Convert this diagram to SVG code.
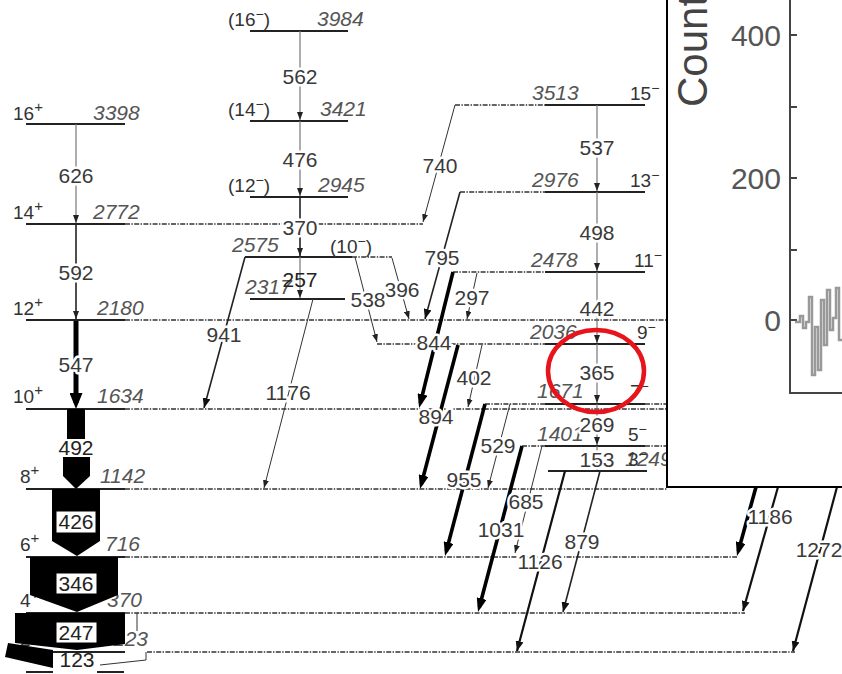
<svg xmlns="http://www.w3.org/2000/svg" width="842" height="674" viewBox="0 0 842 674">
<style>
.lv{stroke:#222;stroke-width:2.2;fill:none}
.dt{stroke:#333;stroke-width:1.4;stroke-dasharray:5 1.4 1.4 1.4;fill:none}
.gv{stroke:#777;stroke-width:1.2;fill:none}
.tn{stroke:#333;stroke-width:1;fill:none}
.mn{stroke:#222;stroke-width:1.6;fill:none}
.md{stroke:#111;stroke-width:2.2;fill:none}
.th{stroke:#000;stroke-width:3.6;fill:none}
.t{font-family:"Liberation Sans",Arial,sans-serif;font-size:21px;fill:#3a3a3a;text-anchor:middle;stroke:#fff;stroke-width:5;stroke-linejoin:round;paint-order:stroke}
.tb{font-family:"Liberation Sans",Arial,sans-serif;font-size:21px;fill:#222;text-anchor:middle}
.e{font-family:"Liberation Sans",Arial,sans-serif;font-size:21px;font-style:italic;fill:#555}
.s{font-family:"Liberation Sans",Arial,sans-serif;font-size:19px;fill:#333}
.ax{font-family:"Liberation Sans",Arial,sans-serif;font-size:30px;fill:#555;text-anchor:end}
.blk{fill:#000}
.box{fill:#fff;stroke:#000;stroke-width:1}
</style>
<defs>
<marker id="as" viewBox="0 0 8 6" refX="8" refY="3" markerWidth="8" markerHeight="6" markerUnits="userSpaceOnUse" orient="auto"><path d="M0,0L8,3L0,6z" fill="#222"/></marker>
<marker id="am" viewBox="0 0 10 8" refX="10" refY="4" markerWidth="10" markerHeight="8" markerUnits="userSpaceOnUse" orient="auto"><path d="M0,0L10,4L0,8z" fill="#111"/></marker>
<marker id="al" viewBox="0 0 14 10" refX="9" refY="5" markerWidth="14" markerHeight="10" markerUnits="userSpaceOnUse" orient="auto"><path d="M0,0L14,5L0,10z" fill="#000"/></marker>
<marker id="ax" viewBox="0 0 16 13" refX="10" refY="6.5" markerWidth="16" markerHeight="13" markerUnits="userSpaceOnUse" orient="auto"><path d="M0,0L16,6.5L0,13z" fill="#000"/></marker>
</defs>
<rect width="842" height="674" fill="#fff"/>

<!-- ground band levels -->
<g id="L0"><path class="lv" d="M26,672H53M97,672H124"/></g>
<g id="L123"><path class="lv" d="M26,652H125"/><path class="dt" d="M147,652H795"/><text class="s" x="20" y="646">2<tspan dy="-8" font-size="15">+</tspan></text><text class="e" x="113" y="646">123</text></g>
<g id="L370"><path class="lv" d="M26,613H125"/><path class="dt" d="M125,613H745"/><text class="s" x="20" y="607">4<tspan dy="-8" font-size="15">+</tspan></text><text class="e" x="107" y="607">370</text></g>
<g id="L716"><path class="lv" d="M26,557H125"/><path class="dt" d="M125,557H737"/><text class="s" x="20" y="551">6<tspan dy="-8" font-size="15">+</tspan></text><text class="e" x="105" y="551">716</text></g>
<g id="L1142"><path class="lv" d="M26,489H125"/><path class="dt" d="M125,489H667"/><text class="s" x="20" y="483">8<tspan dy="-8" font-size="15">+</tspan></text><text class="e" x="100" y="483">1142</text></g>
<g id="L1634"><path class="lv" d="M26,409H125"/><path class="dt" d="M125,409H667"/><text class="s" x="13" y="403">10<tspan dy="-8" font-size="15">+</tspan></text><text class="e" x="97" y="403">1634</text></g>
<g id="L2180"><path class="lv" d="M26,320H125"/><path class="dt" d="M125,320H667"/><text class="s" x="13" y="315">12<tspan dy="-8" font-size="15">+</tspan></text><text class="e" x="97" y="315">2180</text></g>
<g id="L2772"><path class="lv" d="M26,224H125"/><path class="dt" d="M125,224H423"/><text class="s" x="13" y="219">14<tspan dy="-8" font-size="15">+</tspan></text><text class="e" x="93" y="219">2772</text></g>
<g id="L3398"><path class="lv" d="M26,124H125"/><text class="s" x="13" y="120">16<tspan dy="-8" font-size="15">+</tspan></text><text class="e" x="93" y="120">3398</text></g>

<!-- middle band -->
<g id="L3984"><path class="lv" d="M250,31H348"/><text class="s" x="228" y="26">(16<tspan dy="-7" font-size="14">−</tspan><tspan dy="7">)</tspan></text><text class="e" x="317" y="26">3984</text></g>
<g id="L3421"><path class="lv" d="M250,121H348"/><text class="s" x="228" y="116">(14<tspan dy="-7" font-size="14">−</tspan><tspan dy="7">)</tspan></text><text class="e" x="320" y="116">3421</text></g>
<g id="L2945"><path class="lv" d="M250,197H348"/><text class="s" x="228" y="192">(12<tspan dy="-7" font-size="14">−</tspan><tspan dy="7">)</tspan></text><text class="e" x="318" y="192">2945</text></g>
<g id="L2575"><path class="lv" d="M245,257H352"/><path class="dt" d="M352,257H392"/><text class="e" x="232" y="252">2575</text><text class="s" x="330" y="253">(10<tspan dy="-7" font-size="14">−</tspan><tspan dy="7">)</tspan></text></g>
<g id="L2317"><path class="lv" d="M250,299H345"/><text class="e" x="245" y="294">2317</text></g>

<!-- right band -->
<g id="L3513"><path class="lv" d="M545,105H645"/><path class="dt" d="M455,105H545"/><text class="e" x="532" y="100">3513</text><text class="s" x="630" y="100">15<tspan dy="-7" font-size="14">−</tspan></text></g>
<g id="L2976"><path class="lv" d="M545,192H645"/><path class="dt" d="M460,192H545"/><text class="e" x="532" y="187">2976</text><text class="s" x="630" y="187">13<tspan dy="-7" font-size="14">−</tspan></text></g>
<g id="L2478"><path class="lv" d="M545,272H645"/><path class="dt" d="M453,272H545"/><text class="e" x="531" y="267">2478</text><text class="s" x="634" y="267">11<tspan dy="-7" font-size="14">−</tspan></text></g>
<g id="L2036"><path class="lv" d="M545,344H645"/><path class="dt" d="M377,344H545"/><text class="e" x="530" y="339">2036</text><text class="s" x="637" y="339">9<tspan dy="-7" font-size="14">−</tspan></text></g>
<g id="L1671"><path class="lv" d="M545,404H645"/><path class="dt" d="M485,404H545M645,404H667"/><text class="e" x="537" y="398">1671</text><text class="s" x="630" y="398">7<tspan dy="-7" font-size="14">−</tspan></text></g>
<g id="L1401"><path class="lv" d="M545,446H645"/><path class="dt" d="M522,446H545M645,446H667"/><text class="e" x="537" y="441">1401</text><text class="s" x="628" y="441">5<tspan dy="-7" font-size="14">−</tspan></text></g>
<g id="L1249"><path class="lv" d="M548,471H647"/><text class="e" x="625" y="466">1249</text><text class="s" x="628" y="466">3<tspan dy="-7" font-size="14">−</tspan></text></g>

<!-- connectors -->
<g id="connectors">
<path class="gv" d="M76,124V223" marker-end="url(#as)"/>
<path class="mn" d="M76,224V319" marker-end="url(#as)"/>
<path stroke="#000" stroke-width="5" d="M76,321V403" marker-end="url(#ax)"/>
<path class="gv" d="M300,31V120" marker-end="url(#as)"/>
<path class="gv" d="M300,121V196" marker-end="url(#as)"/>
<path class="mn" d="M300,197V256" marker-end="url(#as)"/>
<path class="gv" d="M300,257V298" marker-end="url(#as)"/>
<path class="gv" d="M597,105V191" marker-end="url(#as)"/>
<path class="gv" d="M597,192V271" marker-end="url(#as)"/>
<path class="gv" d="M597,272V343" marker-end="url(#as)"/>
<path class="gv" d="M597,344V403" marker-end="url(#as)"/>
<path class="gv" d="M597,404V445" marker-end="url(#as)"/>
<path class="gv" d="M597,446V470" marker-end="url(#as)"/>
<path class="tn" d="M455,105L423,222" marker-end="url(#as)"/>
<path class="mn" d="M460,192L425,319" marker-end="url(#am)"/>
<path class="th" d="M453,272L420.3,403.2" marker-end="url(#al)"/>
<path class="th" d="M458,345L421.3,484.2" marker-end="url(#al)"/>
<path class="tn" d="M482,345L468,407" marker-end="url(#as)"/>
<path class="tn" d="M477,273L467,319" marker-end="url(#as)"/>
<path class="tn" d="M392,258L409,319" marker-end="url(#as)"/>
<path class="tn" d="M355,257L377,342" marker-end="url(#as)"/>
<path class="mn" d="M245,257L204,408" marker-end="url(#am)"/>
<path class="tn" d="M313,299L264,488" marker-end="url(#as)"/>
<path class="th" d="M485,404L446.3,551.2" marker-end="url(#al)"/>
<path class="tn" d="M510,404L488,488" marker-end="url(#as)"/>
<path class="th" d="M522,446L479.3,607.2" marker-end="url(#al)"/>
<path class="tn" d="M542,446L515,553" marker-end="url(#as)"/>
<path class="md" d="M565,471L517,651" marker-end="url(#am)"/>
<path class="mn" d="M600,471L563,612" marker-end="url(#am)"/>
<path class="md" d="M778,487L743,611" marker-end="url(#am)"/>
<path class="th" stroke-width="3" d="M756,487L738.3,551.2" marker-end="url(#al)"/>
<path class="md" d="M837,487L793,651" marker-end="url(#am)"/>
<path class="tn" stroke="#888" d="M137,613V631M146,652V660L100,665"/>

<text class="t" x="76" y="183">626</text>
<text class="t" x="76" y="280">592</text>
<text class="t" x="76" y="372">547</text>
<text class="t" x="300" y="84">562</text>
<text class="t" x="300" y="167">476</text>
<text class="t" x="300" y="235">370</text>
<text class="tb" x="300" y="287">257</text>
<text class="t" x="597" y="155">537</text>
<text class="t" x="597" y="240">498</text>
<text class="t" x="597" y="316">442</text>
<text class="t" x="597" y="380">365</text>
<text class="t" x="597" y="432">269</text>
<text class="t" x="597" y="467">153</text>
<text class="t" x="440" y="173">740</text>
<text class="t" x="442" y="265">795</text>
<text class="t" x="434" y="350">844</text>
<text class="t" x="436" y="424">894</text>
<text class="t" x="474" y="385">402</text>
<text class="t" x="472" y="305">297</text>
<text class="t" x="402" y="297">396</text>
<text class="t" x="368" y="307">538</text>
<text class="t" x="224" y="342">941</text>
<text class="t" x="288" y="400">1176</text>
<text class="t" x="464" y="487">955</text>
<text class="t" x="498" y="453">529</text>
<text class="t" x="501" y="537">1031</text>
<text class="t" x="526" y="509">685</text>
<text class="t" x="540" y="569">1126</text>
<text class="t" x="582" y="549">879</text>
<text class="t" x="770" y="524">1186</text>
<text class="t" x="819" y="557">1272</text>

<!-- ground band intensity blocks -->
<rect class="blk" x="67" y="409" width="18" height="30"/>
<polygon class="blk" points="63,457 90,457 90,476 76,489 63,476"/>
<text class="tb" x="76" y="455">492</text>
<polygon class="blk" points="52,489 100,489 100,541 77,556 52,541"/>
<rect class="box" x="56" y="511" width="40" height="22"/>
<text class="tb" x="76" y="529">426</text>
<polygon class="blk" points="30,557 118,557 118,595 77,612 30,595"/>
<rect class="box" x="56" y="573" width="41" height="21"/>
<text class="tb" x="76" y="591">346</text>
<polygon class="blk" points="15,613 125,613 125,644 77,650 15,643"/>
<rect class="box" x="56" y="622" width="41" height="21"/>
<text class="tb" x="76" y="640">247</text>
<polygon class="blk" points="8,643 53,650 53,668 5,657"/>
<text class="tb" x="77" y="667">123</text>
</g>

<!-- inset spectrum -->
<g id="inset">
<rect x="667" y="-5" width="180" height="492" fill="#fff" stroke="#000" stroke-width="2"/>
<text font-family="Liberation Sans,Arial,sans-serif" font-size="42" fill="#444" transform="translate(707,107) rotate(-90)">Counts</text>
<path d="M790,0V393H842" stroke="#444" stroke-width="2" fill="none"/>
<path d="M790,35H797M790,107H797M790,178H797M790,250H797M790,320H797" stroke="#444" stroke-width="2"/>
<text class="ax" x="781" y="46">400</text>
<text class="ax" x="781" y="189">200</text>
<text class="ax" x="781" y="331">0</text>
<path d="M795,322H800V316H803V328H806V322H809V297H812V375H815V327H818V370H821V300H824V345H827V290H830V330H833V318H836V288H839V340H842" stroke="#999" stroke-width="2.5" fill="none"/>
</g>

<ellipse cx="596" cy="371" rx="48" ry="41" fill="none" stroke="#e8141b" stroke-width="4.5"/>
</svg>
